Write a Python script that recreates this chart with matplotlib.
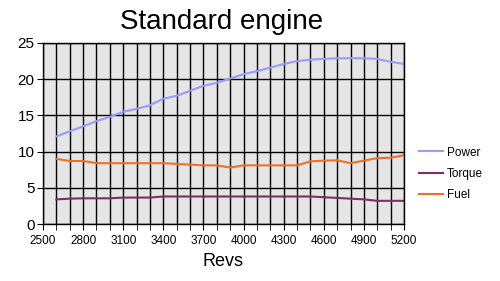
import matplotlib
matplotlib.use("Agg")
import matplotlib.pyplot as plt
from matplotlib.ticker import MultipleLocator

plt.rcParams['font.family'] = ['Liberation Sans', 'DejaVu Sans']

revs = list(range(2600, 5300, 100))
power = [12.1, 12.8, 13.5, 14.2, 14.8, 15.5, 15.9, 16.4, 17.3, 17.7, 18.4, 19.1, 19.5,
         20.1, 20.7, 21.1, 21.6, 22.1, 22.5, 22.7, 22.8, 22.9, 22.9, 22.9, 22.8, 22.4, 22.1]
torque = [3.4, 3.5, 3.55, 3.55, 3.55, 3.65, 3.65, 3.65, 3.8, 3.8, 3.8, 3.8, 3.8,
          3.8, 3.8, 3.8, 3.8, 3.8, 3.8, 3.8, 3.7, 3.6, 3.5, 3.4, 3.2, 3.2, 3.2]
fuel = [9.0, 8.7, 8.7, 8.4, 8.4, 8.4, 8.4, 8.4, 8.4, 8.3, 8.2, 8.1, 8.1,
        7.8, 8.1, 8.1, 8.1, 8.1, 8.1, 8.65, 8.75, 8.8, 8.4, 8.75, 9.1, 9.15, 9.5]
xticks = list(range(2500, 5201, 300))

fig = plt.figure(figsize=(5.0, 2.81), dpi=100)
ax = fig.add_axes([43/500, 1 - 224/281, (404-43)/500, (224-43)/281])
ax.set_facecolor('#e5e5e5')

ax.plot(revs, power, color='#9999ff', lw=1.5, label='Power')
ax.plot(revs, torque, color='#7b3060', lw=1.5, label='Torque')
ax.plot(revs, fuel, color='#f07020', lw=1.5, label='Fuel')

ax.set_xlim(2500, 5200)
ax.set_ylim(0, 25)
ax.set_xticks(xticks)
ax.xaxis.set_minor_locator(MultipleLocator(100))
ax.yaxis.set_major_locator(MultipleLocator(5))
ax.grid(True, which='minor', axis='x', color='black', lw=1)
ax.grid(True, which='major', axis='x', color='black', lw=1)
ax.grid(True, which='major', axis='y', color='black', lw=1)
ax.set_axisbelow(True)
for s in ax.spines.values():
    s.set_color('black')
    s.set_linewidth(1)
ax.tick_params(axis='x', which='both', length=4, direction='out', labelsize=8.5, pad=4)
ax.tick_params(axis='y', which='major', length=4, direction='out', labelsize=11, pad=2)

ax.set_xlabel('Revs', fontsize=13, labelpad=4)
fig.text(222/500, 1 - 22/281, 'Standard engine', fontsize=20, ha='center', va='center')

leg = fig.legend(loc='center left', bbox_to_anchor=(408/500, 1 - 174/281), frameon=False,
                 fontsize=8.5, handlelength=2.1, handletextpad=0.3, labelspacing=0.8)

fig.savefig('out.png', dpi=100)
